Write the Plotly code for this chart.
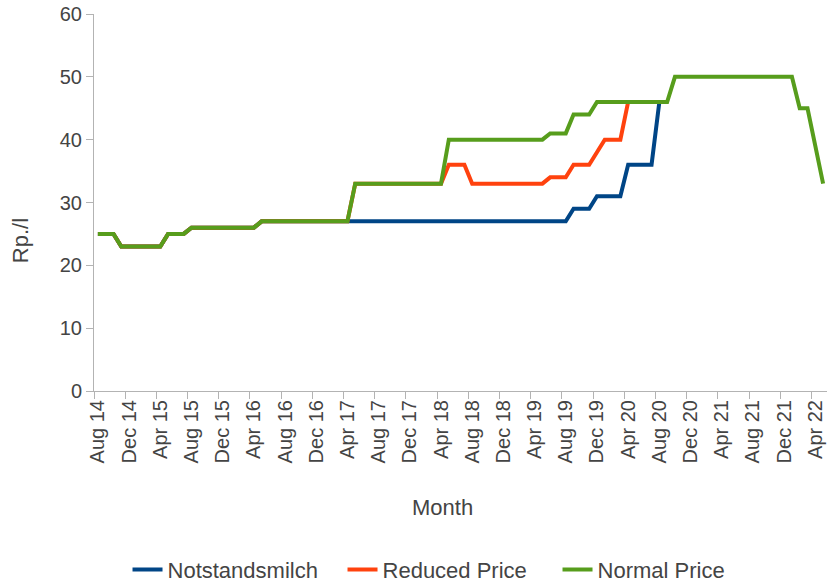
import plotly.graph_objects as go

months = [
    "Aug 14", "Sep 14", "Oct 14", "Nov 14", "Dec 14",
    "Jan 15", "Feb 15", "Mar 15", "Apr 15", "May 15", "Jun 15", "Jul 15", "Aug 15", "Sep 15", "Oct 15", "Nov 15", "Dec 15",
    "Jan 16", "Feb 16", "Mar 16", "Apr 16", "May 16", "Jun 16", "Jul 16", "Aug 16", "Sep 16", "Oct 16", "Nov 16", "Dec 16",
    "Jan 17", "Feb 17", "Mar 17", "Apr 17", "May 17", "Jun 17", "Jul 17", "Aug 17", "Sep 17", "Oct 17", "Nov 17", "Dec 17",
    "Jan 18", "Feb 18", "Mar 18", "Apr 18", "May 18", "Jun 18", "Jul 18", "Aug 18", "Sep 18", "Oct 18", "Nov 18", "Dec 18",
    "Jan 19", "Feb 19", "Mar 19", "Apr 19", "May 19", "Jun 19", "Jul 19", "Aug 19", "Sep 19", "Oct 19", "Nov 19", "Dec 19",
    "Jan 20", "Feb 20", "Mar 20", "Apr 20", "May 20", "Jun 20", "Jul 20", "Aug 20", "Sep 20", "Oct 20", "Nov 20", "Dec 20",
    "Jan 21", "Feb 21", "Mar 21", "Apr 21", "May 21", "Jun 21", "Jul 21", "Aug 21", "Sep 21", "Oct 21", "Nov 21", "Dec 21",
    "Jan 22", "Feb 22", "Mar 22", "Apr 22", "May 22",
]

normal_price = [
    25, 25, 25, 23, 23, 23, 23, 23, 23, 25, 25, 25,
    26, 26, 26, 26, 26, 26, 26, 26, 26,
    27, 27, 27, 27, 27, 27, 27, 27, 27, 27, 27, 27,
    33, 33, 33, 33, 33, 33, 33, 33, 33, 33, 33, 33,
    40, 40, 40, 40, 40, 40, 40, 40, 40, 40, 40, 40, 40,
    41, 41, 41, 44, 44, 44,
    46, 46, 46, 46, 46, 46, 46, 46, 46, 46,
    50, 50, 50, 50, 50, 50, 50, 50, 50, 50, 50, 50, 50, 50, 50, 50,
    45, 45, 39, 33,
]

reduced_price = [
    25, 25, 25, 23, 23, 23, 23, 23, 23, 25, 25, 25,
    26, 26, 26, 26, 26, 26, 26, 26, 26,
    27, 27, 27, 27, 27, 27, 27, 27, 27, 27, 27, 27,
    33, 33, 33, 33, 33, 33, 33, 33, 33, 33, 33, 33,
    36, 36, 36, 33, 33, 33, 33, 33, 33, 33, 33, 33, 33,
    34, 34, 34, 36, 36, 36,
    38, 40, 40, 40, 46,
]

notstandsmilch = [
    25, 25, 25, 23, 23, 23, 23, 23, 23, 25, 25, 25,
    26, 26, 26, 26, 26, 26, 26, 26, 26,
    27, 27, 27, 27, 27, 27, 27, 27, 27, 27, 27, 27,
    27, 27, 27, 27, 27, 27, 27, 27, 27, 27, 27, 27,
    27, 27, 27, 27, 27, 27, 27, 27, 27, 27, 27, 27, 27,
    27, 27, 27, 29, 29, 29,
    31, 31, 31, 31, 36, 36, 36, 36, 46,
]

y_ticks = [0, 10, 20, 30, 40, 50, 60]

FONT = "Liberation Sans, Arial, sans-serif"
TXT = "#444444"
AX = "#b3b3b3"

fig = go.Figure()
fig.add_trace(go.Scatter(x=months[:len(notstandsmilch)], y=notstandsmilch, mode="lines",
                         name="Notstandsmilch", line=dict(color="#004586", width=4)))
fig.add_trace(go.Scatter(x=months[:len(reduced_price)], y=reduced_price, mode="lines",
                         name="Reduced Price", line=dict(color="#ff420e", width=4)))
fig.add_trace(go.Scatter(x=months, y=normal_price, mode="lines",
                         name="Normal Price", line=dict(color="#579d1c", width=4)))

fig.update_layout(
    width=828, height=583,
    margin=dict(l=94, r=1, t=14, b=192, autoexpand=False),
    paper_bgcolor="white", plot_bgcolor="white",
    font=dict(family=FONT, size=20, color=TXT),
    showlegend=True,
    legend=dict(orientation="h", xref="container", yref="container",
                x=0.5435, xanchor="center", y=0.023, yanchor="middle",
                font=dict(size=22, color=TXT),
                entrywidth=170, entrywidthmode="pixels"),
    annotations=[
        dict(text="Rp./l", xref="paper", yref="paper", x=-0.101, y=0.40,
             textangle=-90, showarrow=False, font=dict(size=22, color=TXT),
             xanchor="center", yanchor="middle"),
        dict(text="Month", xref="paper", yref="paper", x=0.475, y=-0.310,
             showarrow=False, font=dict(size=22, color=TXT),
             xanchor="center", yanchor="middle"),
    ],
)

fig.update_xaxes(
    type="category", categoryorder="array", categoryarray=months,
    range=[-0.5, len(months) - 0.5], automargin=False,
    tickmode="linear", tick0=0, dtick=4, tickson="boundaries",
    tickangle=-90, ticks="outside", ticklen=7, tickcolor=AX,
    showline=True, linecolor=AX, linewidth=1,
    showgrid=False, zeroline=False,
    tickfont=dict(size=20, color=TXT),
)
fig.update_yaxes(
    range=[0, 60], tickvals=y_ticks, automargin=False,
    ticks="outside", ticklen=7, tickcolor=AX,
    showline=True, linecolor=AX, linewidth=1,
    showgrid=False, zeroline=False,
    tickfont=dict(size=20, color=TXT),
)

fig.write_html(
    "out.html",
    config={"displayModeBar": False},
    post_script="document.body.style.margin='0';document.body.style.overflow='hidden';",
)
